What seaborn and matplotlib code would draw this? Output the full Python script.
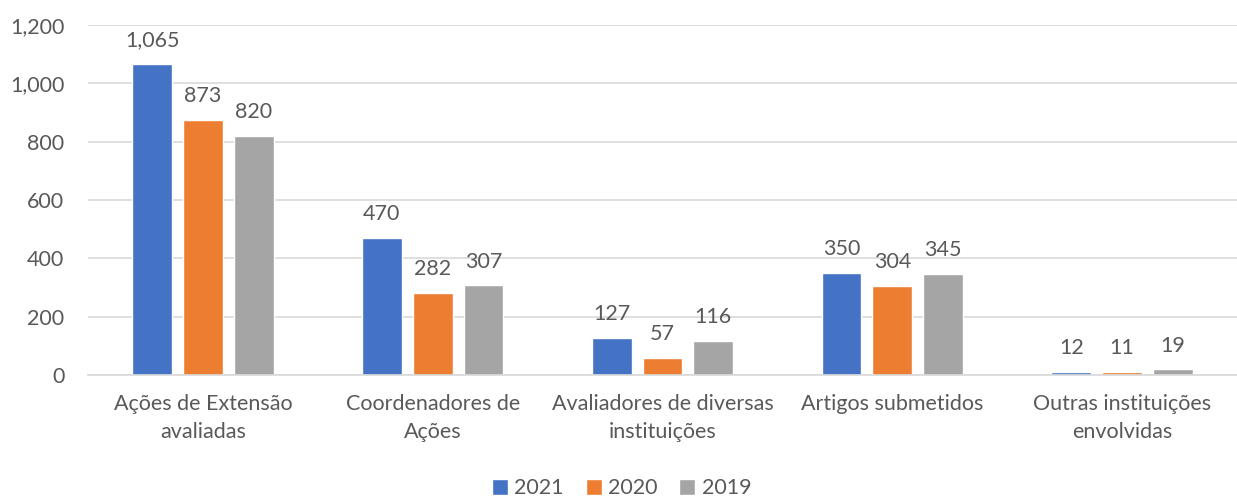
import matplotlib
matplotlib.use("Agg")
import matplotlib.pyplot as plt
import seaborn as sns
import pandas as pd
from matplotlib.ticker import FuncFormatter

categories = ["Ações de Extensão\navaliadas", "Coordenadores de\nAções",
              "Avaliadores de diversas\ninstituições", "Artigos submetidos",
              "Outras instituições\nenvolvidas"]
years = ["2021", "2020", "2019"]
v2021 = [1065, 470, 127, 350, 12]
v2020 = [873, 282, 57, 304, 11]
v2019 = [820, 307, 116, 345, 19]
colors = ["#4472C4", "#ED7D31", "#A5A5A5"]
yticks = [0, 200, 400, 600, 800, 1000, 1200]

rows = []
for y, vals in zip(years, [v2021, v2020, v2019]):
    for c, v in zip(categories, vals):
        rows.append({"cat": c, "year": y, "val": v})
df = pd.DataFrame(rows)

sns.set_theme(style="white")
plt.rcParams['font.family'] = ['Lato', 'DejaVu Sans']
txt = "#595959"
fs = 15.5

fig = plt.figure(figsize=(12.37, 5.0), dpi=100)
ax = fig.add_axes([88/1237, 0.25, 1 - 88/1237, 0.70])
sns.barplot(data=df, x="cat", y="val", hue="year", hue_order=years,
            palette=colors, width=0.663, gap=0.216, ax=ax, saturation=1,
            legend=True)
ax.set_ylim(0, 1200)
ax.set_xlim(-0.5, 4.5)
ax.set_yticks(yticks)
ax.yaxis.set_major_formatter(FuncFormatter(lambda v, p: f"{int(v):,}"))
ax.grid(axis="y", color="#D9D9D9", linewidth=1.2)
ax.set_axisbelow(True)
for s in ["top", "right", "left"]:
    ax.spines[s].set_visible(False)
ax.spines["bottom"].set_color("#D9D9D9")
ax.spines["bottom"].set_linewidth(1.2)
ax.tick_params(axis="both", length=0, colors=txt, labelsize=fs)
ax.tick_params(axis="y", pad=17)
ax.tick_params(axis="x", pad=14)
for lab in ax.get_xticklabels():
    lab.set_linespacing(1.45)
ax.set_xlabel("")
ax.set_ylabel("")
for cont in ax.containers:
    ax.bar_label(cont, labels=[f"{int(v):,}" for v in cont.datavalues],
                 padding=10, color=txt, fontsize=fs)
leg = ax.legend(loc="center", bbox_to_anchor=(0.5 - 44/1237, -0.324),
                ncol=3, frameon=False, fontsize=fs, handlelength=0.75,
                handleheight=0.75, handletextpad=0.3, columnspacing=1.0)
for t in leg.get_texts():
    t.set_color(txt)
fig.savefig("out.png", dpi=100)
